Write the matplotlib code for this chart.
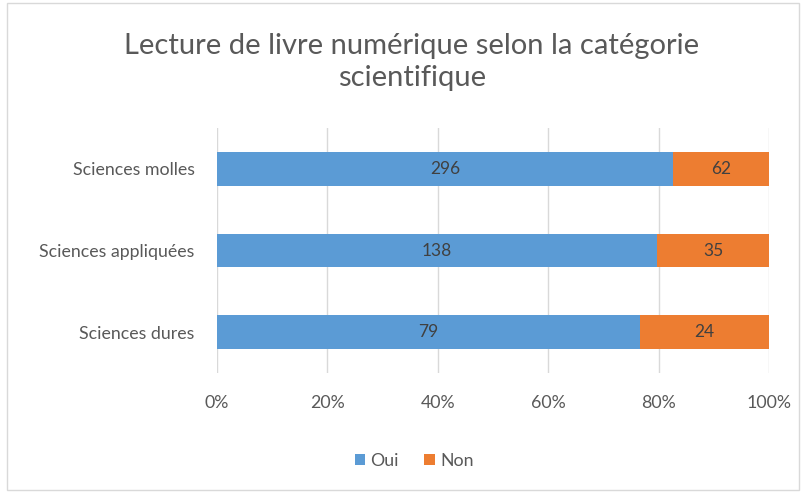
import matplotlib
matplotlib.use("Agg")
import matplotlib.pyplot as plt
from matplotlib.patches import Rectangle
import numpy as np

categories = ["Sciences dures", "Sciences appliquées", "Sciences molles"]
oui = [79, 138, 296]
non = [24, 35, 62]
series_names = ["Oui", "Non"]
colors = ["#5B9BD5", "#ED7D31"]
xticks = [0, 0.2, 0.4, 0.6, 0.8, 1.0]
xticklabels = ["0%", "20%", "40%", "60%", "80%", "100%"]
title = "Lecture de livre numérique selon la catégorie\nscientifique"

plt.rcParams['font.family'] = ['Lato', 'DejaVu Sans']
txt = "#595959"

fig = plt.figure(figsize=(8.06, 4.92), dpi=100)
ax = fig.add_axes([217/806, 1-373/492, 552/806, 245/492])

oui_a = np.array(oui, float)
non_a = np.array(non, float)
tot = oui_a + non_a
po = oui_a / tot
pn = non_a / tot
y = np.arange(len(categories))
h = 0.416
ax.barh(y, po, height=h, color=colors[0], label=series_names[0], zorder=3)
ax.barh(y, pn, left=po, height=h, color=colors[1], label=series_names[1], zorder=3)
for i in range(len(categories)):
    ax.text(po[i]/2, y[i], str(oui[i]), ha="center", va="center", fontsize=12.5, color="#404040", zorder=4)
    ax.text(po[i] + pn[i]/2, y[i], str(non[i]), ha="center", va="center", fontsize=12.5, color="#404040", zorder=4)

ax.set_xlim(0, 1)
ax.set_ylim(-0.5, len(categories) - 0.5)
ax.set_xticks(xticks)
ax.set_xticklabels(xticklabels)
ax.set_yticks(y)
ax.set_yticklabels(categories)
ax.tick_params(axis="both", length=0, colors=txt, labelsize=12.8)
ax.tick_params(axis="x", pad=16)
ax.tick_params(axis="y", pad=16)
for lab in ax.get_xticklabels() + ax.get_yticklabels():
    lab.set_color(txt)
for s in ax.spines.values():
    s.set_visible(False)
ax.grid(axis="x", color="#D9D9D9", linewidth=1, zorder=0)
ax.set_axisbelow(True)

fig.text(412/806, 1-62/492, title, ha="center", va="center", fontsize=21, color=txt, linespacing=1.25)

leg = fig.legend(loc="center", bbox_to_anchor=(414/806, 1-461/492), ncol=2, frameon=False,
                 fontsize=12.8, handlelength=0.6, handleheight=0.6, handletextpad=0.3, columnspacing=1.4)
for t in leg.get_texts():
    t.set_color(txt)

fig.patches.append(Rectangle((7/806, 2/492), 792/806, 487/492, transform=fig.transFigure,
                             fill=False, edgecolor="#D9D9D9", linewidth=1))

fig.savefig("out.png", dpi=100)
